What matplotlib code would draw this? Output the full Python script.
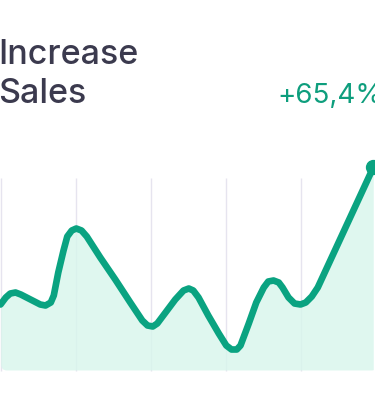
import matplotlib.pyplot as plt
from matplotlib.patches import FancyBboxPatch

# Datos (x en semanas, y en ventas)
weeks = [0.0, 0.07, 0.13, 0.2, 0.27, 0.4, 0.53, 0.6, 0.67, 0.71, 0.77, 0.84, 0.89,
         0.95, 1.01, 1.08, 1.15, 1.33, 1.53, 1.73, 1.89, 1.96, 2.03, 2.09, 2.2, 2.33,
         2.44, 2.51, 2.57, 2.64, 2.77, 2.91, 3.01, 3.08, 3.15, 3.2, 3.31, 3.41, 3.51,
         3.57, 3.64, 3.71, 3.76, 3.84, 3.92, 4.0, 4.07, 4.15, 4.23, 4.97]
sales = [6.6, 7.3, 7.7, 7.8, 7.6, 7.1, 6.6, 6.5, 6.8, 7.5, 9.8, 12.0, 13.4, 14.0,
         14.2, 14.0, 13.4, 11.3, 9.1, 6.8, 5.0, 4.5, 4.4, 4.7, 5.8, 7.1, 8.0, 8.2,
         8.0, 7.3, 5.5, 3.7, 2.5, 2.1, 2.1, 2.5, 4.7, 6.8, 8.3, 8.9, 9.0, 8.8, 8.3,
         7.3, 6.7, 6.6, 6.8, 7.4, 8.3, 20.3]
grid_weeks = [0, 1, 2, 3, 4]

title = "Increase\nSales"
change = "+65,4%"

green = "#0aa381"
fig = plt.figure(figsize=(3.75, 4.11), dpi=100)
ax = fig.add_axes([0, 0, 1, 1])
ax.set_xlim(-0.007, 4.993)
ax.set_ylim(-4.05, 37.05)
ax.axis('off')

# Lineas verticales de la grilla
ax.vlines(grid_weeks, 0, 19.25, color='#e6e4ef', lw=1.0, zorder=1)

# Area bajo la curva con esquinas redondeadas
fill = ax.fill_between(weeks, 0, sales, color=(216/255, 246/255, 236/255), alpha=0.8,
                       lw=0, zorder=2)
clip = FancyBboxPatch((0.003, 40.5/411), 1.004, 0.6,
                      boxstyle="round,pad=0,rounding_size=0.016",
                      mutation_aspect=375/411, transform=ax.transAxes,
                      facecolor='none', edgecolor='none')
ax.add_patch(clip)
fill.set_clip_path(clip)

ax.plot(weeks, sales, color=green, lw=4.8, solid_joinstyle='round',
        solid_capstyle='round', zorder=3)
ax.plot(weeks[-1], sales[-1], 'o', color=green, ms=10, zorder=4)

fig.text(-0.004, 1 - 103/411, title, fontsize=24.5, color='#3b3a4e',
         family='Inter', weight='medium', linespacing=1.27, va='baseline', ha='left')
fig.text(277/375, 1 - 103/411, change, fontsize=20, color='#0e9e7d',
         family='Inter', va='baseline', ha='left')

fig.savefig('out.png', dpi=100)
